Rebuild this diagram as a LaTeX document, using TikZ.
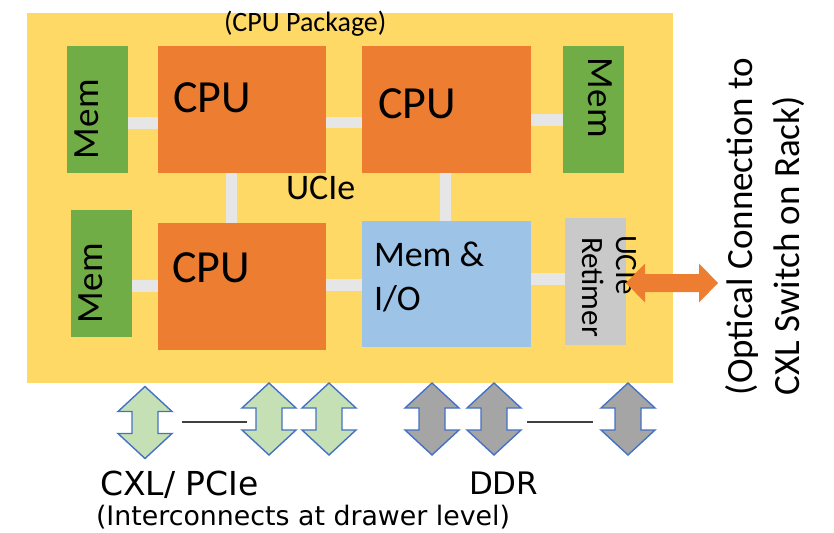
\documentclass[tikz,border=0pt]{standalone}
\usepackage{fontspec}
\setmainfont{Carlito}
\newfontfamily\dvsans{DejaVu Sans}
\usetikzlibrary{calc}
\definecolor{pkgyellow}{HTML}{FFD966}
\definecolor{cpuorange}{HTML}{ED7D31}
\definecolor{memgreen}{HTML}{70AD47}
\definecolor{ioblue}{HTML}{9DC3E6}
\definecolor{retgray}{HTML}{C9C9C9}
\definecolor{linkgray}{HTML}{E7E6E6}
\definecolor{pcigreen}{HTML}{C5E0B4}
\definecolor{ddrgray}{HTML}{A5A5A5}
\definecolor{outlineblue}{HTML}{4472C4}
\begin{document}
\begin{tikzpicture}[x=1pt,y=-1pt,
  box/.style={anchor=north west, inner sep=0pt, outer sep=0pt, draw=none},
  link/.style={draw=linkgray, line width=11.5pt},
  txt/.style={anchor=base west, inner sep=0pt, outer sep=0pt},
  bigtxt/.style={txt, font=\fontsize{46}{55}\selectfont},
  memtxt/.style={txt, font=\fontsize{37}{44}\selectfont},
  midtxt/.style={txt, font=\fontsize{36}{43}\selectfont},
  updown/.pic={\path[pic actions] (0,-36) -- (27,-11) -- (13,-11) -- (13,11) -- (27,11)
     -- (0,36) -- (-27,11) -- (-13,11) -- (-13,-11) -- (-27,-11) -- cycle;},
  pciarrow/.style={fill=pcigreen, draw=outlineblue, line width=1.4pt},
  ddrarrow/.style={fill=ddrgray, draw=outlineblue, line width=1.4pt},
  wire/.style={draw=black!75, line width=1.3pt}]
\useasboundingbox (0,0) rectangle (834,532);

% package substrate
\node[box, fill=pkgyellow, minimum width=646pt, minimum height=370pt] (pkg) at (27,13) {};
\node[txt, font=\fontsize{28}{34}\selectfont] (pkglabel) at (224,32) {(CPU Package)};

% dies
\node[box, fill=memgreen, minimum width=61pt, minimum height=127pt] (mem1) at (67,46) {};
\node[box, fill=cpuorange, minimum width=168pt, minimum height=127pt] (cpu1) at (158,46) {};
\node[box, fill=cpuorange, minimum width=169pt, minimum height=127pt] (cpu2) at (362,46) {};
\node[box, fill=memgreen, minimum width=61pt, minimum height=127pt] (mem2) at (563,46) {};
\node[box, fill=memgreen, minimum width=61pt, minimum height=127pt] (mem3) at (71,210) {};
\node[box, fill=cpuorange, minimum width=168pt, minimum height=127pt] (cpu3) at (158,223) {};
\node[box, fill=ioblue, minimum width=169pt, minimum height=126pt] (memio) at (362,221) {};
\node[box, fill=retgray, minimum width=61pt, minimum height=127pt] (retimer) at (565,218) {};

% UCIe links between dies
\draw[link] (mem1.east |- 0,123) -- (cpu1.west |- 0,123);
\draw[link] (cpu1.east |- 0,122.5) -- (cpu2.west |- 0,122.5);
\draw[link] (cpu2.east |- 0,120) -- (mem2.west |- 0,120);
\draw[link] (cpu1.south -| 231.5,0) -- (cpu3.north -| 231.5,0);
\draw[link] (cpu2.south -| 445.5,0) -- (memio.north -| 445.5,0);
\draw[link] (mem3.east |- 0,286) -- (cpu3.west |- 0,286);
\draw[link] (cpu3.east |- 0,285) -- (memio.west |- 0,285);
\draw[link] (memio.east |- 0,279) -- (retimer.west |- 0,279);

% die labels
\node[bigtxt] (cpu1label) at (173,113) {CPU};
\node[bigtxt] (cpu2label) at (378,118) {CPU};
\node[bigtxt] (cpu3label) at (172,282) {CPU};
\node[memtxt, rotate=90] (mem1label) at (98,159) {Mem};
\node[memtxt, rotate=-90] (mem2label) at (588,58) {Mem};
\node[memtxt, rotate=90] (mem3label) at (102,323) {Mem};
\node[midtxt] (uciel) at (286,199) {UCIe};
\node[midtxt] (memio1) at (374,266) {Mem \&};
\node[midtxt] (memio2) at (374,310) {I/O};
\node[txt, rotate=-90, font=\fontsize{31}{37}\selectfont] (ret1) at (616,235) {UCIe};
\node[txt, rotate=-90, font=\fontsize{31}{37}\selectfont] (ret2) at (582,237) {Retimer};

% optical link off the package
\coordinate (optL) at (retimer.east |- 0,283);
\coordinate (optR) at (718,283);
\fill[cpuorange] (optL) -- ++(19,-19.5) -- ++(0,10.5) -- ($(optR)+(-19,-9)$) -- ++(0,-10.5)
  -- (optR) -- ++(-19,19.5) -- ++(0,-10.5) -- ($(optL)+(19,9)$) -- ++(0,10.5) -- cycle;
\node[txt, rotate=90, font=\fontsize{37}{44}\selectfont] (opt1) at (752,395) {(Optical Connection to};
\node[txt, rotate=90, font=\fontsize{37}{44}\selectfont] (opt2) at (799,395) {CXL Switch on Rack)};

% drawer-level interconnects
\coordinate (g1) at (145,422.5);
\coordinate (g2) at (269,419);
\coordinate (g3) at (329,419);
\coordinate (d1) at (432,419);
\coordinate (d2) at (494,419);
\coordinate (d3) at (628,419);
\pic[pciarrow] at (g1) {updown};
\pic[pciarrow] at (g2) {updown};
\pic[pciarrow] at (g3) {updown};
\pic[ddrarrow] at (d1) {updown};
\pic[ddrarrow] at (d2) {updown};
\pic[ddrarrow] at (d3) {updown};
\coordinate (gwA) at (182,422);
\coordinate (gwB) at (247,422);
\coordinate (dwA) at (527,422);
\coordinate (dwB) at (593,422);
\draw[wire] (gwA) -- (gwB);
\draw[wire] (dwA) -- (dwB);

\node[txt, font=\dvsans\fontsize{33}{40}\selectfont] (pcilabel) at (100,495) {CXL/ PCIe};
\node[txt, font=\dvsans\fontsize{31}{37}\selectfont] (ddrlabel) at (469,494) {DDR};
\node[txt, font=\dvsans\fontsize{26.8}{32}\selectfont] (drawer) at (96,525) {(Interconnects at drawer level)};
\end{tikzpicture}
\end{document}
